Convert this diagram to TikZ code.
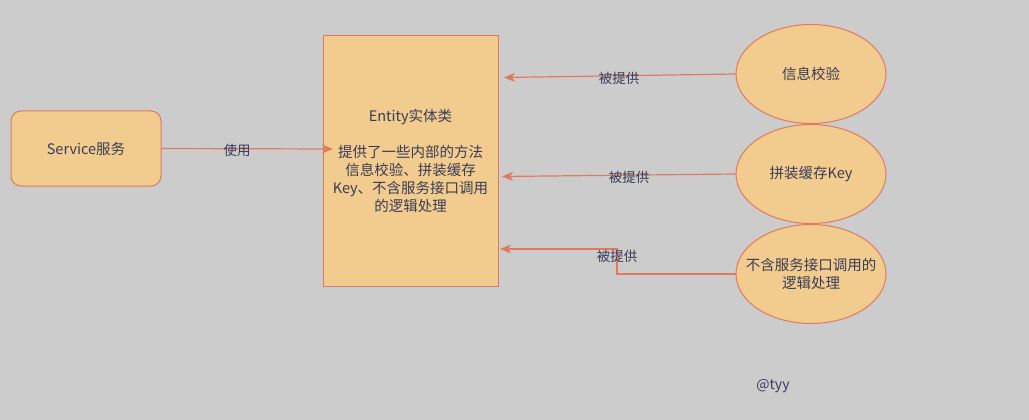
\documentclass[tikz,border=0pt]{standalone}
\usepackage{fontspec}
\setmainfont{Noto Sans CJK SC}
\usetikzlibrary{arrows.meta,shapes.geometric}
\definecolor{boxfill}{HTML}{F2CC8F}
\definecolor{boxline}{HTML}{E07A5F}
\definecolor{textcol}{HTML}{393C56}
\definecolor{canvas}{HTML}{CCCCCC}

\begin{document}
\begin{tikzpicture}[
    x = 1pt,
    y = -1pt,
    >={Stealth[length=11pt,width=9pt,inset=3pt]},
    box/.style = {draw=boxline, fill=boxfill, line width=1pt, text=textcol,
              font=\fontsize{14.5}{18}\selectfont, align=center, inner sep=0pt},
    oval/.style = {draw=boxline, fill=boxfill, line width=1pt, ellipse,
              minimum width=150pt, minimum height=99pt, inner sep=0pt,
              label={[text=textcol, font=\fontsize{14.5}{18}\selectfont, align=center]center:#1}},
    flow/.style = {->, draw=boxline, line width=1.2pt},
    lbl/.style = {text=textcol, font=\fontsize{13.5}{16}\selectfont, inner sep=0pt},
    ]

\fill[canvas] (0,0) rectangle (1029,420);
\useasboundingbox (0,0) rectangle (1029,420);

\node[box, rounded corners=10pt, minimum width=150pt, minimum height=75pt] (service) at (86,148.5){Service服务};
\node[box, minimum width=175pt, minimum height=250pt] (entity) at (410.5,161){Entity实体类\\[18pt]提供了一些内部的方法\\信息校验、拼装缓存\\Key、不含服务接口调用\\的逻辑处理};

\node[oval={信息校验}] (check_1) at (811,74){};
\node[oval={拼装缓存Key}] (key_2) at (811,174){};
\node[oval={不含服务接口调用的\\逻辑处理}] (logic_3) at (811,274){};

\coordinate (tip_use) at (333,149);
\coordinate (tip_1) at (504,77.5);
\coordinate (tip_2) at (502,176.5);
\coordinate (bend_3) at (617,249);
\coordinate (tip_3) at (500,249);

\draw [flow] (service.east) -- (tip_use);
\draw [flow] (check_1.west) -- (tip_1);
\draw [flow] (key_2.west) -- (tip_2);
\draw [flow] (logic_3.west) -| (bend_3) -- (tip_3);

\node[lbl] (use_lbl) at (237,150){使用};
\node[lbl] (give_1) at (619,78){被提供};
\node[lbl] (give_2) at (629,177){被提供};
\node[lbl] (give_3) at (617,256){被提供};

\node[lbl, font=\fontsize{14}{16}\selectfont] (sign) at (773,386){@tyy};

\end{tikzpicture}
\end{document}
